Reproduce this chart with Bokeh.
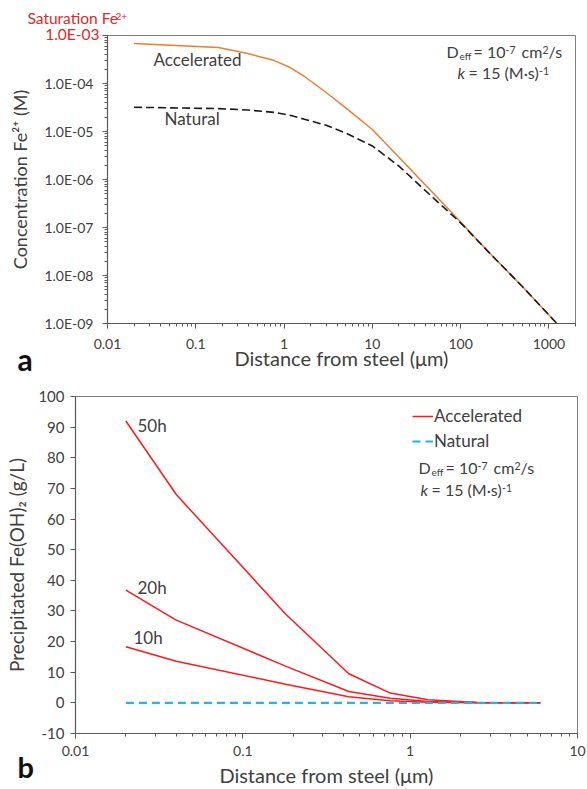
from bokeh.plotting import figure
from bokeh.models import (Range1d, FixedTicker, CustomJSTickFormatter, Label,
                          Legend, LegendItem)
from bokeh.core.properties import value
from bokeh.embed import file_html
from bokeh.resources import INLINE

# ---------------- data: panel a (concentration) ----------------
dist_a = [0.02, 0.18, 0.39, 0.78, 1.2, 1.7, 3, 5, 10, 20, 50, 100, 200, 500, 1000, 1230]
conc_accelerated = [6.8e-4, 5.6e-4, 4.2e-4, 3.0e-4, 2.1e-4, 1.4e-4, 6.5e-5, 3.1e-5,
                    1.1e-5, 2.9e-6, 5.0e-7, 1.3e-7, 3.3e-8, 5.9e-9, 1.5e-9, 1.0e-9]
conc_natural = [3.2e-5, 3.0e-5, 2.8e-5, 2.5e-5, 2.15e-5, 1.8e-5, 1.35e-5, 9.3e-6,
                5.0e-6, 1.9e-6, 4.0e-7, 1.25e-7, 3.3e-8, 5.9e-9, 1.5e-9, 1.0e-9]
xticks_a = [0.01, 0.1, 1, 10, 100, 1000]
xtick_labels_a = ["0.01", "0.1", "1", "10", "100", "1000"]
yticks_a = [1e-9, 1e-8, 1e-7, 1e-6, 1e-5, 1e-4, 1e-3]
ytick_labels_a = ["1.0E-09", "1.0E-08", "1.0E-07", "1.0E-06", "1.0E-05", "1.0E-04", ""]
saturation_tick = "1.0E-03"

# ---------------- data: panel b (precipitate) ----------------
dist_b = [0.02, 0.04, 0.18, 0.43, 0.76, 1.28, 2.5, 6]
prec_50h = [92.0, 68.0, 29.0, 9.5, 3.2, 1.0, 0.15, 0.0]
prec_20h = [36.8, 27.0, 12.0, 3.7, 1.5, 0.45, 0.08, 0.0]
prec_10h = [18.3, 13.6, 6.1, 2.0, 0.7, 0.2, 0.04, 0.0]
prec_natural = [0, 0, 0, 0, 0, 0, 0, 0]
xticks_b = [0.01, 0.1, 1, 10]
xtick_labels_b = ["0.01", "0.1", "1", "10"]
yticks_b = [-10, 0, 10, 20, 30, 40, 50, 60, 70, 80, 90, 100]
ytick_labels_b = [str(v) for v in yticks_b]

FONT = "Lato"
TXT = "#404040"
RED = "#DD2A2A"
AX = "#595959"
BASE_SHIFT = 0.38   # alphabetic baseline correction, in em


def minor_log(lo, hi):
    return [k * 10.0 ** e for e in range(lo, hi) for k in range(2, 10)]


def style_axis(ax, ticks, labels, minor, font_size="14px", standoff=8,
               title_size="18px", title_standoff=5):
    ax.ticker = FixedTicker(ticks=ticks, minor_ticks=minor)
    ax.formatter = CustomJSTickFormatter(args=dict(labels=labels),
                                         code="return labels[index];")
    ax.axis_line_color = AX
    ax.axis_line_width = 1.2
    ax.major_tick_line_color = AX
    ax.minor_tick_line_color = AX if minor else None
    ax.major_tick_in = 0
    ax.major_tick_out = 5
    ax.minor_tick_in = 0
    ax.minor_tick_out = 3
    ax.major_label_text_font = FONT
    ax.major_label_text_font_size = font_size
    ax.major_label_text_color = TXT
    ax.major_label_standoff = standoff
    ax.axis_label_text_font = FONT
    ax.axis_label_text_font_size = title_size
    ax.axis_label_text_font_style = "normal"
    ax.axis_label_text_color = TXT
    ax.axis_label_standoff = title_standoff


class Panel:
    """Places texts at reference pixel positions through a panel's scales."""

    def __init__(self, p, fx, fy):
        self.p, self.fx, self.fy = p, fx, fy

    def label(self, px, py, text, size=16, color=TXT, style="normal"):
        # py is the wanted alphabetic baseline (page pixels)
        self.p.add_layout(Label(x=self.fx(px), y=self.fy(py - BASE_SHIFT * size),
                                text=text, text_font=FONT,
                                text_font_size=f"{size}px", text_color=color,
                                text_font_style=style, text_align="left",
                                text_baseline="alphabetic"))

    def outer(self, px, py, text, size, color=TXT, style="normal", align="left",
              baseline="alphabetic"):
        shift = BASE_SHIFT * size if baseline == "alphabetic" else 0.1 * size
        # text outside the frame: a text glyph drawn at overlay level (not clipped)
        self.p.text(x=[self.fx(px)], y=[self.fy(py - shift)], text=[text],
                    text_font=value(FONT), text_font_size=value(f"{size}px"),
                    text_color=color, text_font_style=style, text_align=align,
                    text_baseline=baseline, level="overlay")

    def params(self, x0, y1, kx, y2):
        # "D_eff = 10^-7 cm^2/s" and "k = 15 (M·s)^-1" with sub/superscripts
        self.label(x0, y1, "D")
        self.label(x0 + 13, y1 + 2, "eff", size=10)
        self.label(x0 + 27, y1, "= 10")
        self.label(x0 + 59, y1 - 4, "-7", size=10.5)
        self.label(x0 + 75, y1, "cm")
        self.label(x0 + 96, y1 - 4, "2", size=10.5)
        self.label(x0 + 102, y1, "/s")
        self.label(kx, y2, "k", style="italic")
        self.label(kx + 11, y2, "= 15 (M·s)")
        self.label(kx + 81.5, y2 - 4, "-1", size=10.5)


# ---------------- panel a ----------------
p1 = figure(width=587, height=386, x_axis_type="log", y_axis_type="log",
            x_range=Range1d(0.01, 2000), y_range=Range1d(1e-9, 1e-3),
            output_backend="svg", toolbar_location=None,
            min_border_left=107, min_border_right=12, min_border_top=35,
            min_border_bottom=63)
p1.grid.visible = False
p1.outline_line_color = "#7f7f7f"
p1.xaxis.axis_label = "Distance from steel (μm)"
p1.yaxis.axis_label = "Concentration Fe²⁺ (M)"
style_axis(p1.xaxis[0], xticks_a, xtick_labels_a, minor_log(-2, 4), standoff=10,
           title_size="20px", title_standoff=-6)
style_axis(p1.yaxis[0], yticks_a, ytick_labels_a, minor_log(-9, -3), standoff=9,
           title_size="18px", title_standoff=10)

p1.line(dist_a, conc_accelerated, line_color="#ED7D31", line_width=1.5)
p1.line(dist_a, conc_natural, line_color="#1a1a1a", line_width=1.6, line_dash="8 4")

A = Panel(p1, lambda px: 10 ** (-2 + (px - 107) / 88.28),
          lambda py: 10 ** (-3 - (py - 35) / 48.0))
A.label(153, 65, "Accelerated", size=17)
A.label(164, 124, "Natural", size=17)
A.params(446, 57, 457, 78)
A.outer(27, 23, "Saturation Fe", 15.5, color=RED)
A.outer(115, 19.5, "2+", 10, color=RED)
A.outer(99, 35, saturation_tick, 15.5, color=RED, align="right", baseline="middle")
A.outer(17, 370, "a", 30, color="#111111", style="bold")

# ---------------- panel b ----------------
p2 = figure(width=587, height=403, x_axis_type="log",
            x_range=Range1d(0.01, 10), y_range=Range1d(-10, 100),
            output_backend="svg", toolbar_location=None,
            min_border_left=75, min_border_right=10, min_border_top=10,
            min_border_bottom=56)
p2.grid.visible = False
p2.outline_line_color = "#7f7f7f"
p2.xaxis.axis_label = "Distance from steel (μm)"
p2.yaxis.axis_label = "Precipitated Fe(OH)₂ (g/L)"
style_axis(p2.xaxis[0], xticks_b, xtick_labels_b, minor_log(-2, 1), standoff=7,
           title_size="20px", title_standoff=4)
style_axis(p2.yaxis[0], yticks_b, ytick_labels_b, [], font_size="15px", standoff=6,
           title_size="19px", title_standoff=7)

r50 = p2.line(dist_b, prec_50h, line_color="#FF1A1A", line_width=1.5)
p2.line(dist_b, prec_20h, line_color="#FF1A1A", line_width=1.5)
p2.line(dist_b, prec_10h, line_color="#FF1A1A", line_width=1.5)
rnat = p2.line(dist_b, prec_natural, line_color="#1FB5EE", line_width=2.2,
               line_dash="8 5")

legend = Legend(items=[LegendItem(label="Accelerated", renderers=[r50]),
                       LegendItem(label="Natural", renderers=[rnat])],
                location=(337, 282), padding=0, margin=0, spacing=4,
                glyph_width=21, glyph_height=20, label_height=20,
                label_standoff=1, background_fill_alpha=0,
                border_line_color=None, label_text_font=FONT,
                label_text_font_size="17px", label_text_color=TXT)
p2.add_layout(legend)

B = Panel(p2, lambda px: 10 ** (-2 + (px - 75) / (502 / 3.0)),
          lambda py: 100 - (py - 396) * 110 / 337.0)
B.label(137, 431, "50h", size=17)
B.label(137, 593, "20h", size=17)
B.label(133, 643, "10h", size=17)
B.params(418, 473, 420, 495)
B.outer(17, 777, "b", 29, color="#111111", style="bold")

open("out.html", "w").write(file_html([p1, p2], INLINE))
